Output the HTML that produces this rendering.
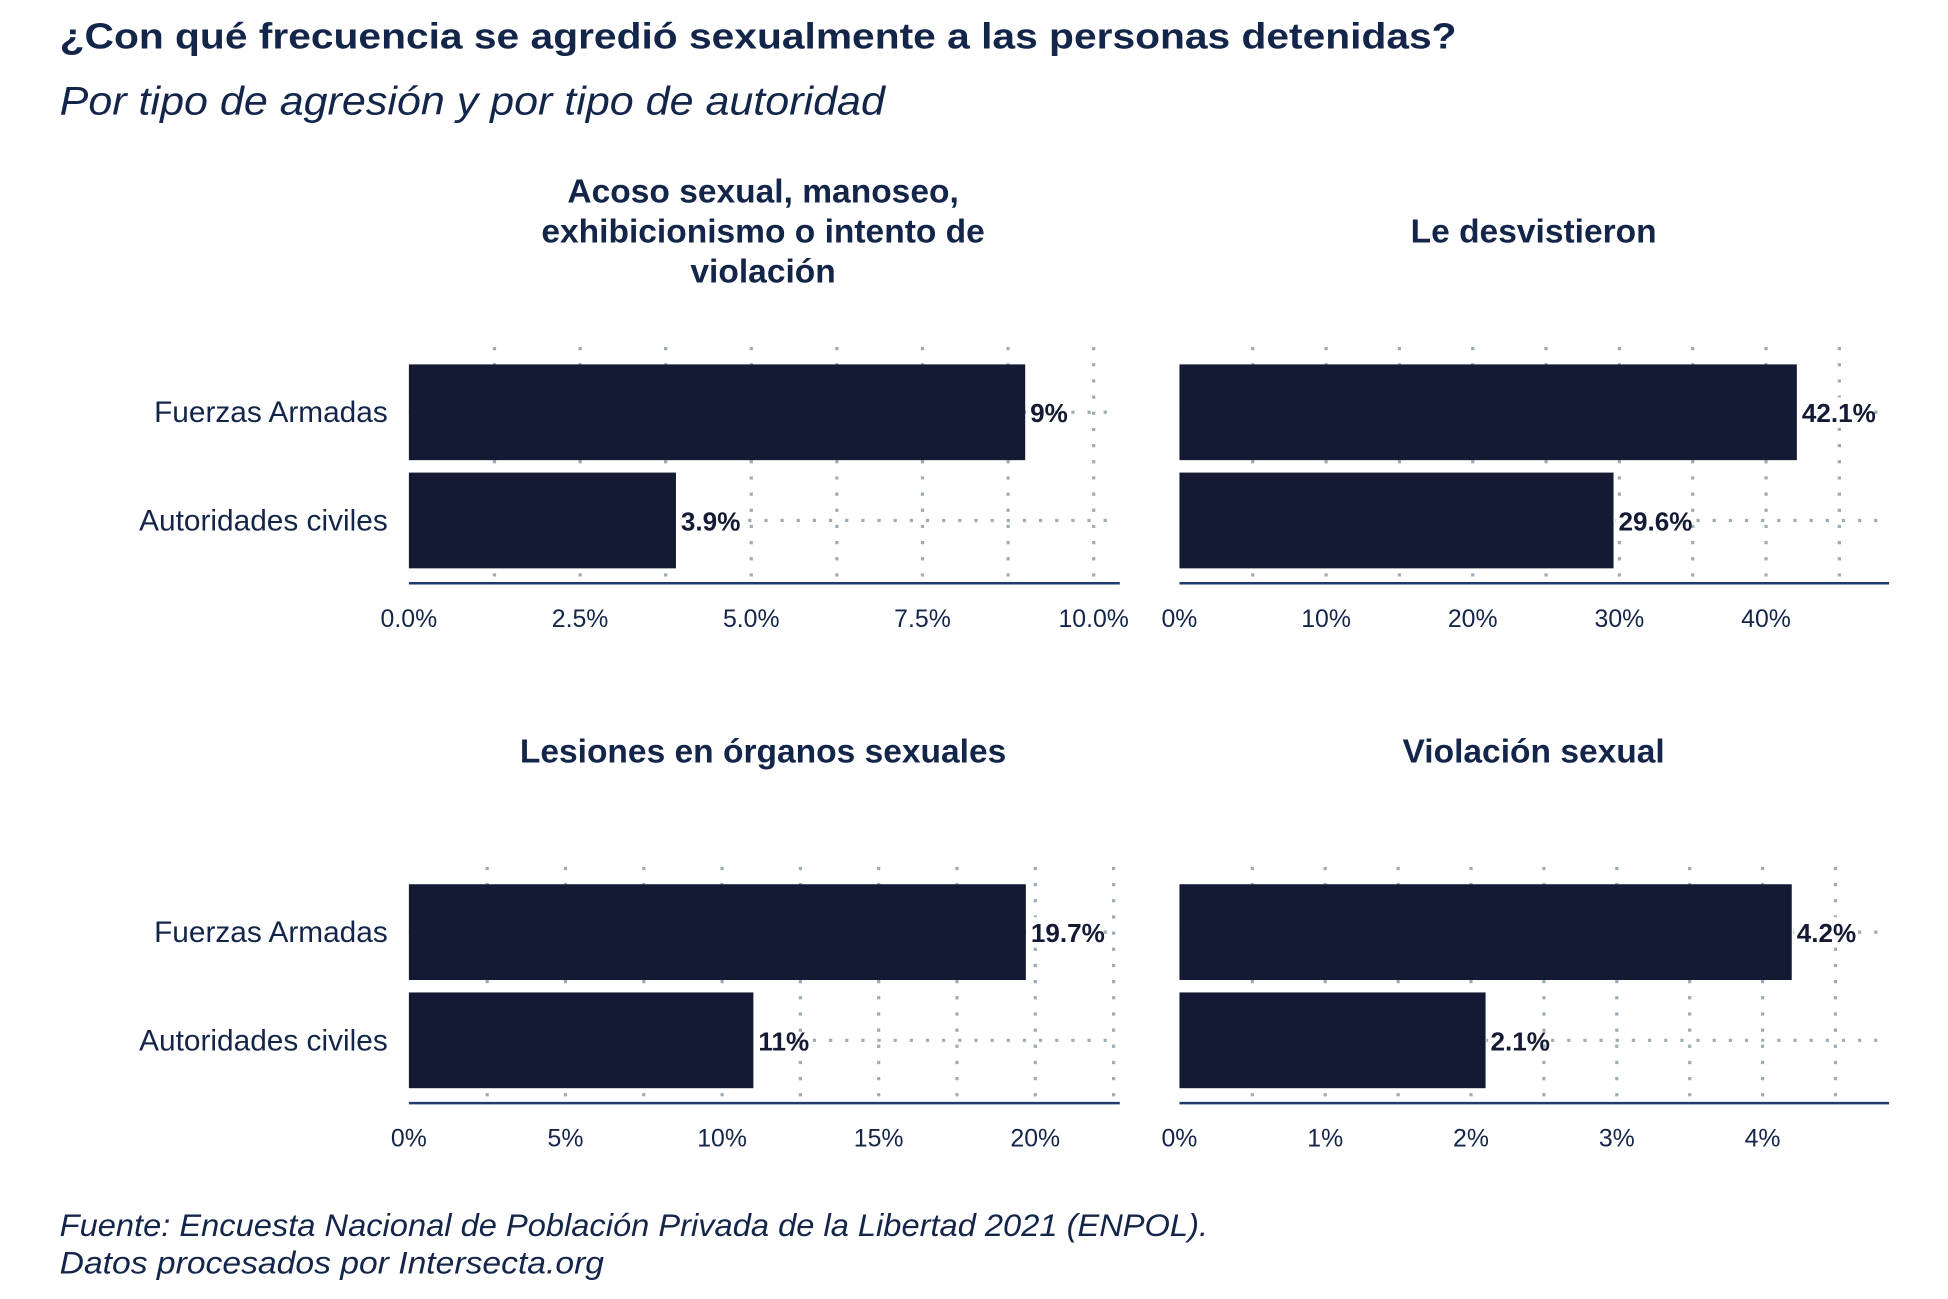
<!DOCTYPE html>
<html><head><meta charset="utf-8"><style>
html,body{margin:0;padding:0;background:#fff;}
svg{display:block;}
text{font-family:"Liberation Sans Narrow","Liberation Sans",sans-serif;}
</style></head><body>
<svg id="chart" width="1948" height="1299" viewBox="0 0 1567.4 1044.5" preserveAspectRatio="none" xmlns="http://www.w3.org/2000/svg">
<rect width="1567.4" height="1044.5" fill="#fff"/>
<text x="48" y="39" font-family="Liberation Serif, serif" font-weight="bold" font-size="29" fill="#14254a" textLength="1124" lengthAdjust="spacingAndGlyphs">¿Con qué frecuencia se agredió sexualmente a las personas detenidas?</text>
<text x="48" y="92" font-style="italic" font-size="32" fill="#14254a" textLength="664" lengthAdjust="spacingAndGlyphs">Por tipo de agresión y por tipo de autoridad</text>
<g id="panels"></g>
<text x="48" y="994" font-style="italic" font-size="25" fill="#14254a" textLength="924" lengthAdjust="spacingAndGlyphs">Fuente: Encuesta Nacional de Población Privada de la Libertad 2021 (ENPOL).</text>
<text x="48" y="1024" font-style="italic" font-size="25" fill="#14254a" textLength="438" lengthAdjust="spacingAndGlyphs">Datos procesados por Intersecta.org</text>
</svg>
<script>
const categories = ["Fuerzas Armadas", "Autoridades civiles"];
const panelTitles = [["Acoso sexual, manoseo,", "exhibicionismo o intento de", "violación"], ["Le desvistieron"], ["Lesiones en órganos sexuales"], ["Violación sexual"]];
const valuesAcoso = [9, 3.9];
const valuesDesvistieron = [42.1, 29.6];
const valuesLesiones = [19.7, 11];
const valuesViolacion = [4.2, 2.1];
const labelsAcoso = ["9%", "3.9%"];
const labelsDesvistieron = ["42.1%", "29.6%"];
const labelsLesiones = ["19.7%", "11%"];
const labelsViolacion = ["4.2%", "2.1%"];
const ticksAcoso = ["0.0%", "2.5%", "5.0%", "7.5%", "10.0%"];
const ticksDesvistieron = ["0%", "10%", "20%", "30%", "40%"];
const ticksLesiones = ["0%", "5%", "10%", "15%", "20%"];
const ticksViolacion = ["0%", "1%", "2%", "3%", "4%"];
const tickValsAcoso = [0, 2.5, 5, 7.5, 10];
const tickValsDesvistieron = [0, 10, 20, 30, 40];
const tickValsLesiones = [0, 5, 10, 15, 20];
const tickValsViolacion = [0, 1, 2, 3, 4];

const NS = "http://www.w3.org/2000/svg";
const root = document.getElementById("panels");
function mk(tag, attrs, parent) {
  const e = document.createElementNS(NS, tag);
  for (const k in attrs) e.setAttribute(k, attrs[k]);
  parent.appendChild(e);
  return e;
}
const panels = [
  {vals: valuesAcoso, labs: labelsAcoso, ticks: ticksAcoso, tv: tickValsAcoso, x0: 329, x1: 901, pxPerUnit: 55.1, top: 0, title: panelTitles[0], cx: 614, showCats: true, slug: "acoso"},
  {vals: valuesDesvistieron, labs: labelsDesvistieron, ticks: ticksDesvistieron, tv: tickValsDesvistieron, x0: 949, x1: 1520, pxPerUnit: 11.8, top: 0, title: panelTitles[1], cx: 1234, showCats: false, slug: "desvistieron"},
  {vals: valuesLesiones, labs: labelsLesiones, ticks: ticksLesiones, tv: tickValsLesiones, x0: 329, x1: 901, pxPerUnit: 25.2, top: 418, title: panelTitles[2], cx: 614, showCats: true, slug: "lesiones"},
  {vals: valuesViolacion, labs: labelsViolacion, ticks: ticksViolacion, tv: tickValsViolacion, x0: 949, x1: 1520, pxPerUnit: 117.3, top: 418, title: panelTitles[3], cx: 1234, showCats: false, slug: "violacion"}
];
const barTops = [293, 380], barH = 77;
panels.forEach(p => {
  const g = mk("g", {}, root);
  
  
  const xs = v => p.x0 + v * p.pxPerUnit;
  const yo = p.top;
  const tStart = p.title.length === 3 ? 163 : 195;
  p.title.forEach((line, i) => {
    const t = mk("text", {x: p.cx, y: yo + tStart + i * 32, "text-anchor": "middle", "font-weight": "bold", "font-size": 27, fill: "#14254a"}, g);
    
    
    t.textContent = line;
  });
  const step = p.tv[1] - p.tv[0];
  for (let v = 0; xs(v) <= p.x1 + 0.5; v += step / 2) {
    if (v === 0) continue;
    const l = mk("line", {x1: xs(v), x2: xs(v), y1: yo + 279, y2: yo + 467, stroke: "#9eacb4", "stroke-width": 2.6, "stroke-dasharray": "2.6 10.4"}, g);
    
    
  }
  categories.forEach((c, i) => {
    const cy = yo + barTops[i] + barH / 2;
    const hl = mk("line", {x1: p.x0, x2: p.x1, y1: cy, y2: cy, stroke: "#9eacb4", "stroke-width": 2.6, "stroke-dasharray": "2.6 10.4"}, g);
    
    
  });
  categories.forEach((c, i) => {
    const y = yo + barTops[i];
    const b = mk("rect", {x: p.x0, y: y, width: xs(p.vals[i]) - p.x0, height: barH, fill: "#141a33"}, g);
    
    
    const lb = mk("rect", {x: xs(p.vals[i]) + 2, y: y + barH / 2 - 12, width: p.labs[i].length * 10.5, height: 24, fill: "#fff"}, g);
    
    
    const t = mk("text", {x: xs(p.vals[i]) + 4, y: y + barH / 2 + 8, "font-weight": "bold", "font-size": 21, fill: "#141a33"}, g);
    
    
    t.textContent = p.labs[i];
    if (p.showCats) {
      const ct = mk("text", {x: 312, y: y + barH / 2 + 8, "text-anchor": "end", "font-size": 24, fill: "#14254a"}, g);
      
      
      ct.textContent = c;
    }
  });
  const ax = mk("line", {x1: p.x0, x2: p.x1, y1: yo + 469, y2: yo + 469, stroke: "#1f3a6b", "stroke-width": 2}, g);
  
  
  p.tv.forEach((v, i) => {
    const t = mk("text", {x: xs(v), y: yo + 504, "text-anchor": "middle", "font-size": 20, fill: "#14254a"}, g);
    
    
    t.textContent = p.ticks[i];
  });
});
</script>
</body></html>
